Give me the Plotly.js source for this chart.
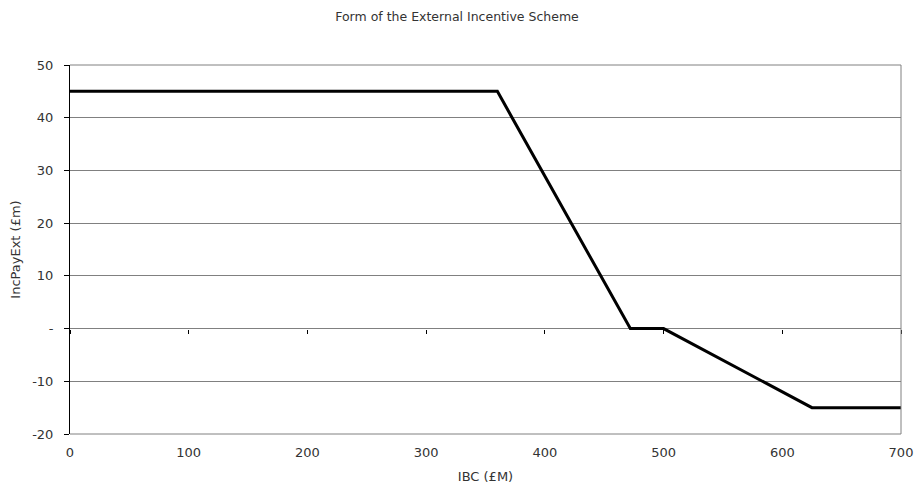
<!DOCTYPE html>
<html><head><meta charset="utf-8">
<script src="https://cdn.plot.ly/plotly-3.0.1.min.js"></script>
<style>html,body{margin:0;padding:0;background:#fff;}#chart{width:914px;height:490px;}</style>
</head><body><div id="chart"></div>
<script>
const ibc = [0, 360, 472, 500, 625, 700];
const incPay = [45, 45, 0, 0, -15, -15];
const yTickVals = [-20, -10, 0, 10, 20, 30, 40, 50];
const yTickText = ['-20', '-10', '-', '10', '20', '30', '40', '50'];
const xTickVals = [0, 100, 200, 300, 400, 500, 600, 700];

const font = 'DejaVu Sans, sans-serif';
const grid = '#808080';
const trace = {x: ibc, y: incPay, type: 'scatter', mode: 'lines',
  line: {color: '#000', width: 3}, hoverinfo: 'skip', showlegend: false};
const dummy = {x: [0, 700], y: [0, 0], xaxis: 'x2', yaxis: 'y', mode: 'lines',
  line: {width: 0}, hoverinfo: 'skip', showlegend: false};

const layout = {
  width: 914, height: 490,
  margin: {l: 70, r: 13, t: 65, b: 56},
  paper_bgcolor: '#fff', plot_bgcolor: '#fff',
  font: {family: font, color: '#333', size: 12},
  title: {text: 'Form of the External Incentive Scheme', font: {size: 12.5, color: '#333', family: font},
    x: 0.5, xanchor: 'center', y: 0.975, yanchor: 'top'},
  xaxis: {range: [0, 700], tickvals: xTickVals, ticks: '', showgrid: false, zeroline: false,
    showline: false, tickfont: {size: 13, color: '#333'}, ticklabelstandoff: 9,
    title: {text: 'IBC (£M)', font: {size: 13, color: '#333'}, standoff: 12}},
  xaxis2: {range: [0, 700], overlaying: 'x', anchor: 'free', position: 20/70, side: 'bottom',
    tickvals: xTickVals, ticks: 'outside', ticklen: 4, tickcolor: '#000', tickwidth: 1,
    showticklabels: false, showgrid: false, zeroline: false, showline: false},
  yaxis: {range: [-20, 50], tickvals: yTickVals, ticktext: yTickText, ticks: 'outside', ticklen: 5,
    tickcolor: '#000', showline: true, linecolor: '#000', linewidth: 1,
    showgrid: true, gridcolor: grid, gridwidth: 1, zeroline: false,
    tickfont: {size: 13, color: '#333'}, ticklabelstandoff: 8,
    title: {text: 'IncPayExt (£m)', font: {size: 13, color: '#333'}, standoff: 8}},
  shapes: [
    {type: 'line', xref: 'paper', yref: 'paper', x0: 1, x1: 1, y0: 0, y1: 1, line: {color: grid, width: 1}},
    {type: 'line', xref: 'paper', yref: 'paper', x0: 0, x1: 1, y0: 1, y1: 1, line: {color: grid, width: 1}},
    {type: 'line', xref: 'paper', yref: 'paper', x0: 0, x1: 1, y0: 0, y1: 0, line: {color: grid, width: 1}}
  ]
};
Plotly.newPlot('chart', [trace, dummy], layout, {staticPlot: true, displayModeBar: false});
</script></body></html>
